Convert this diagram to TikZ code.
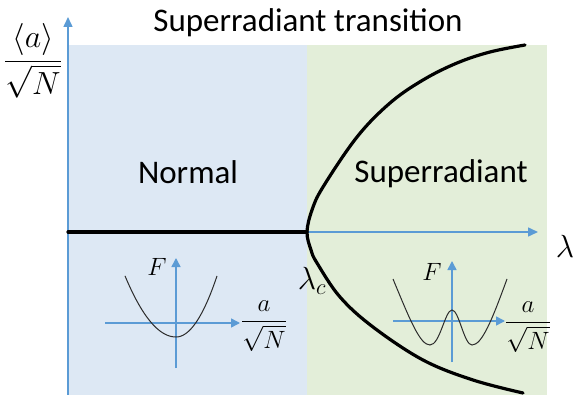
\RequirePackage{fix-cm}
\documentclass[tikz,border=0pt]{standalone}
\usepackage{amsmath}
\usepackage{fontspec}
\setmainfont{Carlito}
\usepackage{xcolor}
\usepackage{tikz}
\usetikzlibrary{arrows.meta}
\definecolor{NormalBg}{HTML}{DDE8F4}
\definecolor{SuperBg}{HTML}{E3EED9}
\definecolor{AxisBlue}{HTML}{5B9BD5}
\definecolor{WellInk}{HTML}{2B2B2B}
\newcommand{\phasefont}{\fontsize{33}{38}\selectfont}
\newcommand{\symfont}{\fontsize{32}{38}\selectfont}
\newcommand{\insetfont}{\fontsize{25}{29}\selectfont}
\tikzset{
  axisline/.style={AxisBlue, line width=1.5pt, -{Triangle[length=10pt,width=9pt]}},
  smallaxis/.style={AxisBlue, line width=1.5pt, -{Triangle[length=9pt,width=9pt]}},
  orderline/.style={black, line width=3.2pt, line cap=round},
  wellline/.style={WellInk, line width=1pt},
}

\begin{document}
\begin{tikzpicture}[x=1pt,y=-1pt]
  \useasboundingbox (0,0) rectangle (575,395);
  % phases
  \fill[NormalBg] (68,45) rectangle (307,395);
  \fill[SuperBg] (307,45) rectangle (547,395);
  % main axes
  \coordinate (origin) at (68,395);
  \coordinate (ytip) at (68,17);
  \coordinate (lamc) at (307,232);
  \coordinate (xtip) at (538,232);
  \coordinate (left) at (68,232);
  \draw[axisline] (origin) -- (ytip);
  \draw[axisline] (lamc) -- (xtip);
  % order parameter
  \draw[orderline] (left) -- (lamc);
  \draw[orderline] plot[smooth, tension=0.6] coordinates {
    (525,45) (490,52) (457,63) (423,80) (390,103) (357,137) (323,187)
    (312,210) (307,232) (311,250) (317,263) (340,297) (373,327)
    (423,360) (473,380) (523,393)};
  % texts
  \node[font=\phasefont] (title) at (308,23) {Superradiant transition};
  \node[font=\phasefont] (normal) at (188,172) {Normal};
  \node[font=\phasefont] (superr) at (441,174) {Superradiant};
  \node[font=\symfont] (ylab) at (33,61) {$\dfrac{\langle a\rangle}{\sqrt{N}}$};
  \node[font=\symfont] (xlab) at (565,246) {$\lambda$};
  \node[font=\symfont] (lamclab) at (312,281) {$\lambda_c$};
  % normal free energy
  \coordinate (nx0) at (105,323);
  \coordinate (nx1) at (240,323);
  \coordinate (ny0) at (176,368);
  \coordinate (ny1) at (176,258);
  \draw[smallaxis] (nx0) -- (nx1);
  \draw[smallaxis] (ny0) -- (ny1);
  \draw[wellline] plot[domain=-51:0, samples=30] ({176+\x},{337-0.0235*\x*\x})
    -- plot[domain=0:41, samples=30] ({176+\x},{337-0.0363*\x*\x});
  \node[font=\insetfont] (nF) at (157,267) {$F$};
  \node[font=\insetfont] (na) at (264,326) {$\dfrac{a}{\sqrt{N}}$};
  % superradiant free energy
  \coordinate (sx0) at (393,321);
  \coordinate (sx1) at (505,321);
  \coordinate (sy0) at (452,362);
  \coordinate (sy1) at (452,261);
  \draw[smallaxis] (sx0) -- (sx1);
  \draw[smallaxis] (sy0) -- (sy1);
  \draw[wellline] (393,279) .. controls (410,320) and (420,345) .. (430,345)
    .. controls (440,345) and (445,310) .. (452,310)
    .. controls (459,310) and (464,345) .. (472,345)
    .. controls (482,345) and (492,320) .. (507,279);
  \node[font=\insetfont] (sF) at (432,272) {$F$};
  \node[font=\insetfont] (sa) at (528,327) {$\dfrac{a}{\sqrt{N}}$};
\end{tikzpicture}
\end{document}
